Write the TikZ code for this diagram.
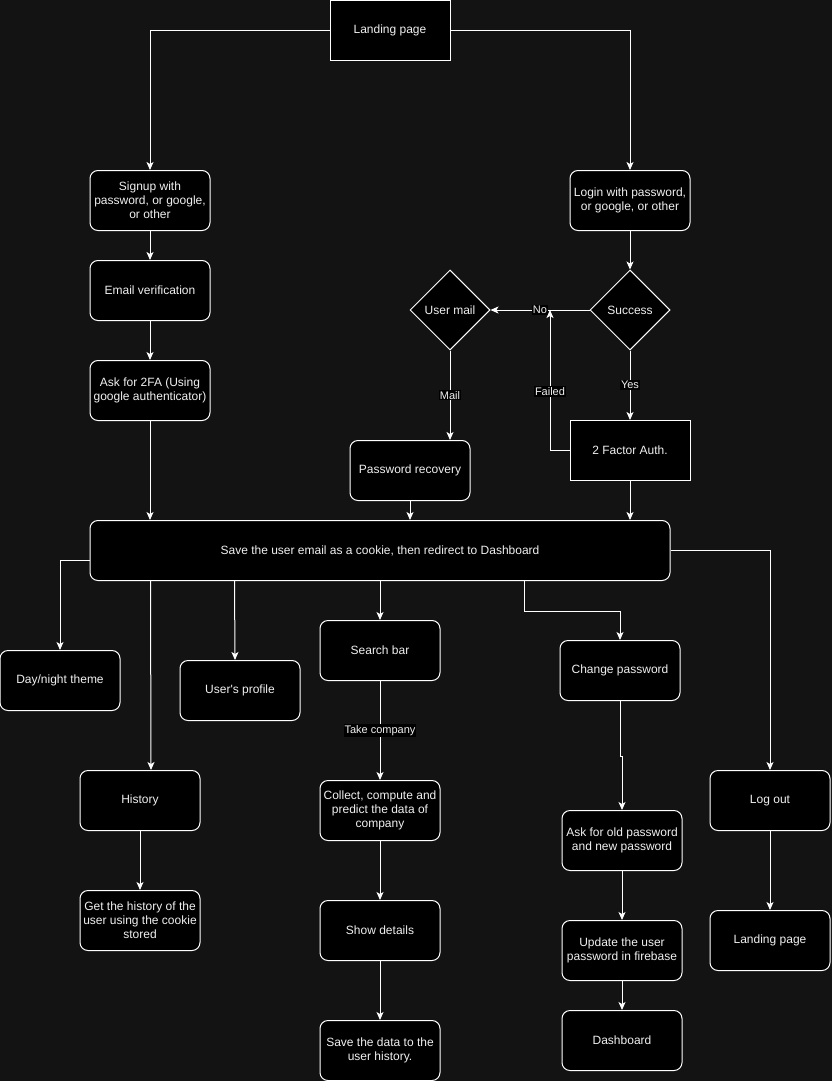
\documentclass[tikz,border=0pt]{standalone}
\usepackage{fontspec}
\newfontfamily\mainf{Liberation Sans}
\usetikzlibrary{shapes.geometric,arrows.meta}
\definecolor{bg}{RGB}{19,19,19}
\definecolor{txt}{RGB}{240,240,240}
\begin{document}
\begin{tikzpicture}[x=1pt,y=-1pt,
 box/.style={draw=white,fill=black,text=txt,minimum width=120pt,minimum height=60pt,inner sep=2pt,align=center,font=\mainf\fontsize{12}{14}\selectfont,line width=1pt},
 rbox/.style={box,rounded corners=8pt},
 dia/.style={box,shape=diamond,aspect=1,minimum width=80pt,minimum height=80pt,inner sep=0pt},
 arr/.style={draw=white,line width=1pt,-{Stealth[length=8pt,width=7pt,inset=2pt]}},
 lab/.style={fill=black,text=txt,font=\mainf\fontsize{11}{12}\selectfont,inner sep=1pt}
]
\fill[bg] (0,0) rectangle (832,1081);
\useasboundingbox (0,0) rectangle (832,1081);

\node[box] (land) at (390,30.5) {Landing page};
\node[rbox] (sign) at (150,200.5) {Signup with\\password, or google,\\or other};
\node[rbox] (login) at (630,200.5) {Login with password,\\or google, or other};
\node[rbox] (email) at (150,290.5) {Email verification};
\node[rbox] (ask) at (150,390.5) {Ask for 2FA (Using\\google authenticator)};
\node[dia] (succ) at (630,310) {Success};
\node[dia] (umail) at (450,310) {User mail};
\node[box] (tfa) at (630,450.5) {2 Factor Auth.};
\node[rbox] (prec) at (410,470.5) {Password recovery};
\node[rbox,minimum width=580pt] (save) at (380,550.5) {Save the user email as a cookie, then redirect to Dashboard};
\node[rbox] (day) at (60,680.5) {Day/night theme};
\node[rbox] (prof) at (240,690.5) {User's profile};
\node[rbox] (search) at (380,650.5) {Search bar};
\node[rbox] (chg) at (620,670.5) {Change password};
\node[rbox] (hist) at (140,800.5) {History};
\node[rbox] (ghist) at (140,920.5) {Get the history of the\\user using the cookie\\stored};
\node[rbox] (coll) at (380,810.5) {Collect, compute and\\predict the data of\\company};
\node[rbox] (show) at (380,930.5) {Show details};
\node[rbox] (sdata) at (380,1050.5) {Save the data to the\\user history.};
\node[rbox] (askold) at (622,840.5) {Ask for old password\\and new password};
\node[rbox] (upd) at (622,950.5) {Update the user\\password in firebase};
\node[rbox] (dash) at (622,1040.5) {Dashboard};
\node[rbox] (logout) at (770,800.5) {Log out};
\node[rbox] (land2) at (770,940.5) {Landing page};

\coordinate (fj) at (550,310);

\draw[arr] (land.west) -| (sign.north);
\draw[arr] (land.east) -| (login.north);
\draw[arr] (sign.south) -- (email.north);
\draw[arr] (email.south) -- (ask.north);
\draw[arr] (ask.south) -- (ask.south |- save.north);
\draw[arr] (login.south) -- (succ.north);
\draw[arr] (succ.west) -- (umail.east) node[lab,midway]{No};
\draw[arr] (succ.south) -- (tfa.north) node[lab,midway]{Yes};
\draw[arr] (tfa.west) -| (fj) node[lab,pos=0.71]{Failed};
\draw[arr] (umail.south) -- (umail.south |- prec.north) node[lab,midway]{Mail};
\draw[arr] (prec.south) -- (prec.south |- save.north);
\draw[arr] (tfa.south) -- (tfa.south |- save.north);
\draw[arr] ([yshift=-10pt]save.west) -| (day.north);
\draw[arr] ([xshift=61pt]save.south west) -- ([xshift=11pt]hist.north);
\draw[arr] ([xshift=145pt]save.south west) -- ([xshift=-5pt]prof.north);
\draw[arr] (save.south) -- (search.north);
\draw[arr] ([xshift=435pt]save.south west) -- ++(0,30) -| (chg.north);
\draw[arr] (save.east) -| (logout.north);
\draw[arr] (search.south) -- (coll.north) node[lab,midway]{Take company};
\draw[arr] (coll.south) -- (show.north);
\draw[arr] (show.south) -- (sdata.north);
\draw[arr] (chg.south) -- ++(0,55) -| (askold.north);
\draw[arr] (askold.south) -- (upd.north);
\draw[arr] (upd.south) -- (dash.north);
\draw[arr] (hist.south) -- (ghist.north);
\draw[arr] (logout.south) -- (land2.north);
\end{tikzpicture}
\end{document}
